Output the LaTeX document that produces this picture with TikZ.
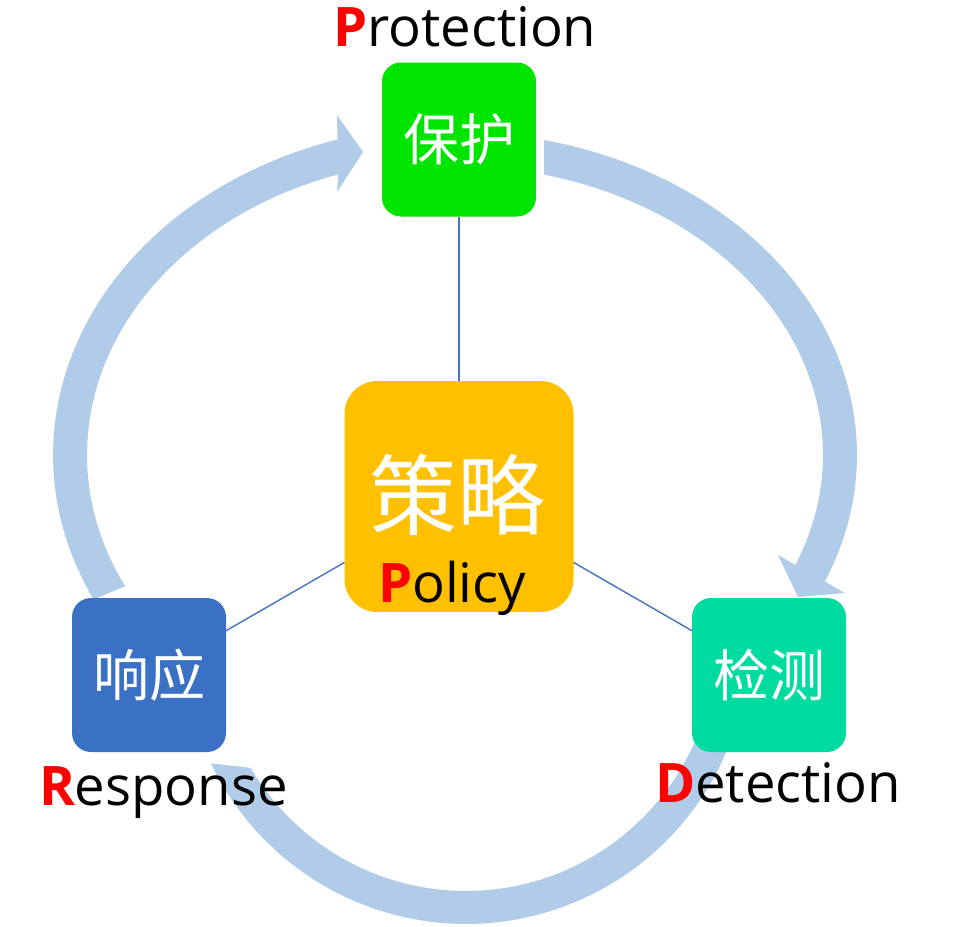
\documentclass[tikz,border=0pt]{standalone}
\usepackage{fontspec}
\setmainfont{Open Sans}
\newfontfamily\cjk{Noto Sans CJK SC}
\definecolor{arcblue}{RGB}{177,204,232}
\definecolor{pgreen}{RGB}{0,229,0}
\definecolor{porange}{RGB}{255,192,0}
\definecolor{rblue}{RGB}{58,113,197}
\definecolor{dteal}{RGB}{0,220,160}
\definecolor{linkblue}{RGB}{68,114,196}
\definecolor{pred}{RGB}{255,0,0}
\begin{document}
\begin{tikzpicture}[x=1pt,y=-1pt,
  box/.style={rounded corners=19pt, minimum width=154pt, minimum height=154pt,
    inner sep=0pt, outer sep=0pt, text=white, font=\cjk\fontsize{56}{60}\selectfont},
  link/.style={draw=linkblue, line width=1.4pt},
  lbl/.style={anchor=base west, inner sep=0pt, outer sep=0pt, font=\fontsize{54.5}{60}\selectfont},
  band/.style={fill=arcblue}]
\useasboundingbox (0,0) rectangle (968,926);

% circular block arrows
\fill[band] plot[domain=154:253,samples=60] ({455+402*cos(\x)},{455+330*sin(\x)})
  -- (337,115) -- (363,152) -- (337,192)
  -- plot[domain=251.5:153.7,samples=60] ({455+368*cos(\x)},{455+296*sin(\x)}) -- cycle;
\fill[band] plot[domain=-77.2:23.07,samples=60] ({455+402*cos(\x)},{455+323*sin(\x)})
  -- (845,593) -- (798,597) -- (778,555)
  -- plot[domain=22.35:-76,samples=60] ({455+368*cos(\x)},{455+289*sin(\x)}) -- cycle;
\fill[band] plot[domain=20:154.4,samples=60] ({466+283*cos(\x)},{641+283*sin(\x)})
  -- plot[domain=149.5:20,samples=60] ({466+250*cos(\x)},{641+250*sin(\x)}) -- cycle;

% boxes
\node[box, fill=pgreen] (prot) at (459,139.5) {保护};
\node[box, fill=porange, minimum width=229pt, minimum height=231pt, rounded corners=33pt] (pol) at (459,496.5) {};
\node[box, fill=rblue] (resp) at (149,675) {响应};
\node[box, fill=dteal] (det) at (769,675) {检测};

% links
\draw[link] (prot) -- (pol);
\draw[link] (pol) -- (resp);
\draw[link] (pol) -- (det);

% texts
\node[text=white, inner sep=0pt, font=\cjk\fontsize{88}{90}\selectfont] (polcn) at (457.5,495) {策略};
\node[lbl] (pollbl) at (378,602) {{\bfseries\color{pred}P}olicy};
\node[lbl] (protlbl) at (333,46) {{\bfseries\color{pred}P}rotection};
\node[lbl] (resplbl) at (39,805) {{\bfseries\color{pred}R}esponse};
\node[lbl] (detlbl) at (655,802) {{\bfseries\color{pred}D}etection};
\end{tikzpicture}
\end{document}
